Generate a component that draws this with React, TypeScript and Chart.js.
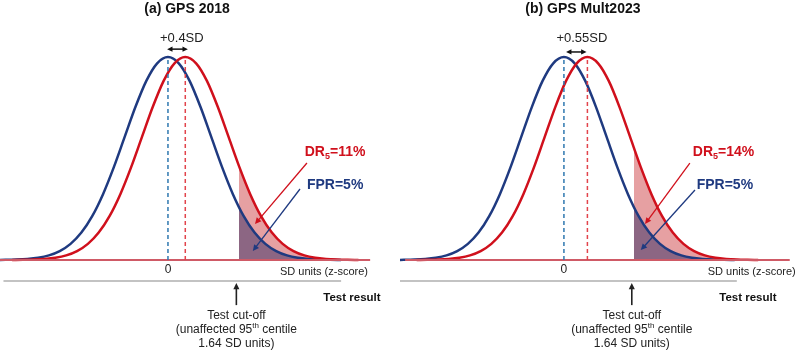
import React, { useEffect, useRef } from "react";
import { Chart, registerables } from "chart.js";

Chart.register(...registerables);

// ---------- data (heights relative to peak = 1) ----------
// shared curve shape (relative density at each plotted point)
const curveDensity = [
  0.0003, 0.0009, 0.0022, 0.0051, 0.0111, 0.0228, 0.0439, 0.0796, 0.1353, 0.2163,
  0.3247, 0.4578, 0.6065, 0.7548, 0.8825, 0.9692, 1.0, 0.9692, 0.8825, 0.7548,
  0.6065, 0.4578, 0.3247, 0.2163, 0.1353, 0.0796, 0.0439, 0.0228, 0.0111, 0.0051,
  0.0022, 0.0009, 0.0003,
];
// unaffected (blue) z positions
const zUnaffected = [
  -4, -3.75, -3.5, -3.25, -3, -2.75, -2.5, -2.25, -2, -1.75, -1.5, -1.25, -1, -0.75,
  -0.5, -0.25, 0, 0.25, 0.5, 0.75, 1, 1.25, 1.5, 1.75, 2, 2.25, 2.5, 2.75, 3, 3.25,
  3.5, 3.75, 4,
];
// affected (red) z positions, panel (a): mean +0.4 SD
const zAffectedA = [
  -3.6, -3.35, -3.1, -2.85, -2.6, -2.35, -2.1, -1.85, -1.6, -1.35, -1.1, -0.85, -0.6,
  -0.35, -0.1, 0.15, 0.4, 0.65, 0.9, 1.15, 1.4, 1.65, 1.9, 2.15, 2.4, 2.65, 2.9, 3.15,
  3.4, 3.65, 3.9, 4.15, 4.4,
];
// affected (red) z positions, panel (b): mean +0.55 SD
const zAffectedB = [
  -3.45, -3.2, -2.95, -2.7, -2.45, -2.2, -1.95, -1.7, -1.45, -1.2, -0.95, -0.7, -0.45,
  -0.2, 0.05, 0.3, 0.55, 0.8, 1.05, 1.3, 1.55, 1.8, 2.05, 2.3, 2.55, 2.8, 3.05, 3.3,
  3.55, 3.8, 4.05, 4.3, 4.55,
];

// tails beyond the test cut-off (1.64 SD)
const tailZUnaffected = [1.64, 1.75, 2, 2.25, 2.5, 2.75, 3, 3.25, 3.5, 3.75, 4];
const tailDensityUnaffected = [0.2606, 0.2163, 0.1353, 0.0796, 0.0439, 0.0228, 0.0111, 0.0051, 0.0022, 0.0009, 0.0003];
const tailZAffectedA = [1.64, 1.9, 2.15, 2.4, 2.65, 2.9, 3.15, 3.4, 3.65, 3.9, 4.15, 4.4];
const tailDensityAffectedA = [0.4636, 0.3247, 0.2163, 0.1353, 0.0796, 0.0439, 0.0228, 0.0111, 0.0051, 0.0022, 0.0009, 0.0003];
const tailZAffectedB = [1.64, 1.8, 2.05, 2.3, 2.55, 2.8, 3.05, 3.3, 3.55, 3.8, 4.05, 4.3, 4.55];
const tailDensityAffectedB = [0.552, 0.4578, 0.3247, 0.2163, 0.1353, 0.0796, 0.0439, 0.0228, 0.0111, 0.0051, 0.0022, 0.0009, 0.0003];

const meanShifts = [0.4, 0.55];
const panelTitles = ["(a) GPS 2018", "(b) GPS Mult2023"];
const shiftLabels = ["+0.4SD", "+0.55SD"];
const detectionRates = ["11%", "14%"];
const falsePositiveRates = ["5%", "5%"];
const tickLabels = ["0"];
const axisLabel = "SD units (z-score)";
const resultLabel = "Test result";
const cutOffLines = ["Test cut-off", "(unaffected 95|th| centile", "1.64 SD units)"];

// ---------- styles ----------
const FONT = "'Liberation Sans', Arial, sans-serif";
const BLUE = "#1f3a80";
const RED = "#d0101c";
const PINK = "#e6a0a2";
const PURPLE = "#8c6683";
const BLUE_DASH = "#2f78b0";
const RED_DASH = "#e2444c";
const BASE = "#cf5a66";
const GREY = "#c3c3c3";

type Panel = {
  idx: number;
  width: number;
  xMin: number;
  xMax: number;
  zAffected: number[];
  tailZAffected: number[];
  tailDensityAffected: number[];
  titleX: number;
  shiftLabelX: number;
  arrowFrom: number;
  arrowTo: number;
  arrowY: number;
  drX: number;
  fprX: number;
  drArrow: number[];
  fprArrow: number[];
  baseFrom: number;
  baseTo: number;
  greyFrom: number;
  greyTo: number;
  axisLabelX: number;
  resultX: number;
  cutTextX: number;
};

const panels: Panel[] = [
  {
    idx: 0, width: 400, xMin: -3.88, xMax: 5.36,
    zAffected: zAffectedA, tailZAffected: tailZAffectedA, tailDensityAffected: tailDensityAffectedA,
    titleX: 0.44, shiftLabelX: 0.32, arrowFrom: -0.02, arrowTo: 0.46, arrowY: 1.039,
    drX: 3.16, fprX: 3.21,
    drArrow: [3.21, 0.478, 2.01, 0.177], fprArrow: [3.05, 0.35, 1.96, 0.044],
    baseFrom: -3.88, baseTo: 4.67, greyFrom: -3.8, greyTo: 4.0,
    axisLabelX: 4.62, resultX: 4.25, cutTextX: 1.58,
  },
  {
    idx: 1, width: 397, xMin: -3.84, xMax: 5.46,
    zAffected: zAffectedB, tailZAffected: tailZAffectedB, tailDensityAffected: tailDensityAffectedB,
    titleX: 0.445, shiftLabelX: 0.42, arrowFrom: 0.05, arrowTo: 0.53, arrowY: 1.025,
    drX: 3.02, fprX: 3.11,
    drArrow: [2.95, 0.478, 1.9, 0.177], fprArrow: [3.07, 0.345, 1.8, 0.049],
    baseFrom: -3.72, baseTo: 5.29, greyFrom: -3.84, greyTo: 4.05,
    axisLabelX: 5.43, resultX: 4.31, cutTextX: 1.59,
  },
];

const pts = (xs: number[], ys: number[]) => xs.map((x, i) => ({ x, y: ys[i] }));

function arrowHead(ctx: CanvasRenderingContext2D, x1: number, y1: number, x2: number, y2: number, size: number, color: string) {
  const a = Math.atan2(y2 - y1, x2 - x1);
  ctx.fillStyle = color;
  ctx.beginPath();
  ctx.moveTo(x2, y2);
  ctx.lineTo(x2 - size * Math.cos(a - 0.45), y2 - size * Math.sin(a - 0.45));
  ctx.lineTo(x2 - size * Math.cos(a + 0.45), y2 - size * Math.sin(a + 0.45));
  ctx.closePath();
  ctx.fill();
}

function arrowLine(ctx: CanvasRenderingContext2D, x1: number, y1: number, x2: number, y2: number, color: string, w: number, size: number) {
  const a = Math.atan2(y2 - y1, x2 - x1);
  ctx.strokeStyle = color;
  ctx.lineWidth = w;
  ctx.beginPath();
  ctx.moveTo(x1, y1);
  ctx.lineTo(x2 - size * 0.7 * Math.cos(a), y2 - size * 0.7 * Math.sin(a));
  ctx.stroke();
  arrowHead(ctx, x1, y1, x2, y2, size, color);
}

function makePlugin(p: Panel) {
  return {
    id: "annot" + p.idx,
    beforeDatasetsDraw(chart: any) {
      const ctx = chart.ctx as CanvasRenderingContext2D;
      const xs = chart.scales.x, ys = chart.scales.y;
      const X = (v: number) => xs.getPixelForValue(v);
      const Y = (v: number) => ys.getPixelForValue(v);
      ctx.save();
      // grey test-result line
      ctx.strokeStyle = GREY;
      ctx.lineWidth = 2;
      ctx.beginPath();
      ctx.moveTo(X(p.greyFrom), Y(-0.103));
      ctx.lineTo(X(p.greyTo), Y(-0.103));
      ctx.stroke();
      ctx.restore();
    },
    afterDatasetsDraw(chart: any) {
      const ctx = chart.ctx as CanvasRenderingContext2D;
      const xs = chart.scales.x, ys = chart.scales.y;
      const X = (v: number) => xs.getPixelForValue(v);
      const Y = (v: number) => ys.getPixelForValue(v);
      const shift = meanShifts[p.idx];
      ctx.save();
      // baseline
      ctx.strokeStyle = BASE;
      ctx.lineWidth = 2;
      ctx.beginPath();
      ctx.moveTo(X(p.baseFrom), Y(0));
      ctx.lineTo(X(p.baseTo), Y(0));
      ctx.stroke();

      // dashed mean lines
      ctx.setLineDash([4, 3]);
      ctx.lineWidth = 1.5;
      ctx.strokeStyle = BLUE_DASH;
      ctx.beginPath();
      ctx.moveTo(X(0), Y(0.985));
      ctx.lineTo(X(0), Y(0));
      ctx.stroke();
      ctx.strokeStyle = RED_DASH;
      ctx.beginPath();
      ctx.moveTo(X(shift), Y(0.985));
      ctx.lineTo(X(shift), Y(0));
      ctx.stroke();
      ctx.setLineDash([]);

      // title
      ctx.fillStyle = "#111";
      ctx.textAlign = "center";
      ctx.textBaseline = "middle";
      ctx.font = `bold 14px ${FONT}`;
      ctx.fillText(panelTitles[p.idx], X(p.titleX), Y(1.236));

      // shift label + double arrow
      ctx.font = `13px ${FONT}`;
      ctx.fillStyle = "#222";
      ctx.fillText(shiftLabels[p.idx], X(p.shiftLabelX), Y(1.094));
      const ax1 = X(p.arrowFrom), ax2 = X(p.arrowTo), ay = Y(p.arrowY);
      ctx.strokeStyle = "#111";
      ctx.lineWidth = 1.5;
      ctx.beginPath();
      ctx.moveTo(ax1 + 3, ay);
      ctx.lineTo(ax2 - 3, ay);
      ctx.stroke();
      arrowHead(ctx, ax2, ay, ax1, ay, 6, "#111");
      arrowHead(ctx, ax1, ay, ax2, ay, 6, "#111");

      // DR label
      ctx.textAlign = "left";
      let tx = X(p.drX);
      const dy = Y(0.532);
      ctx.fillStyle = RED;
      ctx.font = `bold 14px ${FONT}`;
      ctx.fillText("DR", tx, dy);
      tx += ctx.measureText("DR").width;
      ctx.font = `bold 9px ${FONT}`;
      ctx.fillText("5", tx, dy + 4);
      tx += ctx.measureText("5").width;
      ctx.font = `bold 14px ${FONT}`;
      ctx.fillText("=" + detectionRates[p.idx], tx, dy);

      // FPR label
      ctx.fillStyle = BLUE;
      ctx.fillText("FPR=" + falsePositiveRates[p.idx], X(p.fprX), Y(0.369));

      // annotation arrows
      const d = p.drArrow, f = p.fprArrow;
      arrowLine(ctx, X(d[0]), Y(d[1]), X(d[2]), Y(d[3]), RED, 1.3, 7);
      arrowLine(ctx, X(f[0]), Y(f[1]), X(f[2]), Y(f[3]), BLUE, 1.3, 7);

      // tick label & axis label
      ctx.fillStyle = "#222";
      ctx.textAlign = "center";
      ctx.font = `12px ${FONT}`;
      ctx.fillText(tickLabels[0], X(0), Y(-0.049));
      ctx.textAlign = "right";
      ctx.font = `11px ${FONT}`;
      ctx.fillText(axisLabel, X(p.axisLabelX), Y(-0.059));

      // test result
      ctx.textAlign = "center";
      ctx.font = `bold 11.5px ${FONT}`;
      ctx.fillStyle = "#111";
      ctx.fillText(resultLabel, X(p.resultX), Y(-0.187));

      // cut-off arrow
      const cx = X(p.cutTextX);
      arrowLine(ctx, cx, Y(-0.222), cx, Y(-0.113), "#222", 1.6, 7);

      // cut-off text
      ctx.fillStyle = "#222";
      const lineYs = [-0.276, -0.345, -0.414];
      cutOffLines.forEach((line, i) => {
        const y = Y(lineYs[i]);
        if (line.includes("|")) {
          const [a, sup, b] = line.split("|");
          ctx.font = `12px ${FONT}`;
          const wa = ctx.measureText(a).width;
          const wb = ctx.measureText(b).width;
          ctx.font = `8px ${FONT}`;
          const ws = ctx.measureText(sup).width;
          const x0 = cx - (wa + ws + wb) / 2;
          ctx.textAlign = "left";
          ctx.font = `12px ${FONT}`;
          ctx.fillText(a, x0, y);
          ctx.font = `8px ${FONT}`;
          ctx.fillText(sup, x0 + wa, y - 4);
          ctx.font = `12px ${FONT}`;
          ctx.fillText(b, x0 + wa + ws, y);
        } else {
          ctx.textAlign = "center";
          ctx.font = `12px ${FONT}`;
          ctx.fillText(line, cx, y);
        }
      });
      ctx.restore();
    },
  };
}

function PanelChart({ p }: { p: Panel }) {
  const ref = useRef<HTMLCanvasElement | null>(null);
  useEffect(() => {
    if (!ref.current) return;
    const chart = new Chart(ref.current, {
      type: "line",
      data: {
        datasets: [
          {
            data: pts(zUnaffected, curveDensity),
            borderColor: BLUE, borderWidth: 2.5, fill: false, order: 1,
          },
          {
            data: pts(p.zAffected, curveDensity),
            borderColor: RED, borderWidth: 2.5, fill: false, order: 0,
          },
          {
            data: pts(tailZUnaffected, tailDensityUnaffected),
            borderWidth: 0, borderColor: "rgba(0,0,0,0)", backgroundColor: PURPLE, fill: "origin", order: 2,
          },
          {
            data: pts(p.tailZAffected, p.tailDensityAffected),
            borderWidth: 0, borderColor: "rgba(0,0,0,0)", backgroundColor: PINK, fill: "origin", order: 3,
          },
        ],
      },
      options: {
        animation: false,
        responsive: false,
        maintainAspectRatio: false,
        events: [],
        layout: { padding: 0 },
        plugins: { legend: { display: false }, tooltip: { enabled: false }, title: { display: false } },
        elements: { point: { radius: 0 }, line: { cubicInterpolationMode: "monotone" } },
        scales: {
          x: { type: "linear", min: p.xMin, max: p.xMax, display: false },
          y: { type: "linear", min: -0.448, max: 1.281, display: false },
        },
      } as any,
      plugins: [makePlugin(p)],
    });
    return () => chart.destroy();
  }, [p]);
  return (
    <canvas
      ref={ref}
      width={p.width}
      height={351}
      style={{ position: "absolute", left: p.idx === 0 ? 0 : 400, top: 0, width: p.width, height: 351 }}
    />
  );
}

export default function App() {
  useEffect(() => {
    document.body.style.margin = "0";
    document.body.style.background = "#ffffff";
  }, []);
  return (
    <div style={{ position: "relative", width: 797, height: 351, background: "#fff", overflow: "hidden" }}>
      {panels.map((p) => (
        <PanelChart key={p.idx} p={p} />
      ))}
    </div>
  );
}
